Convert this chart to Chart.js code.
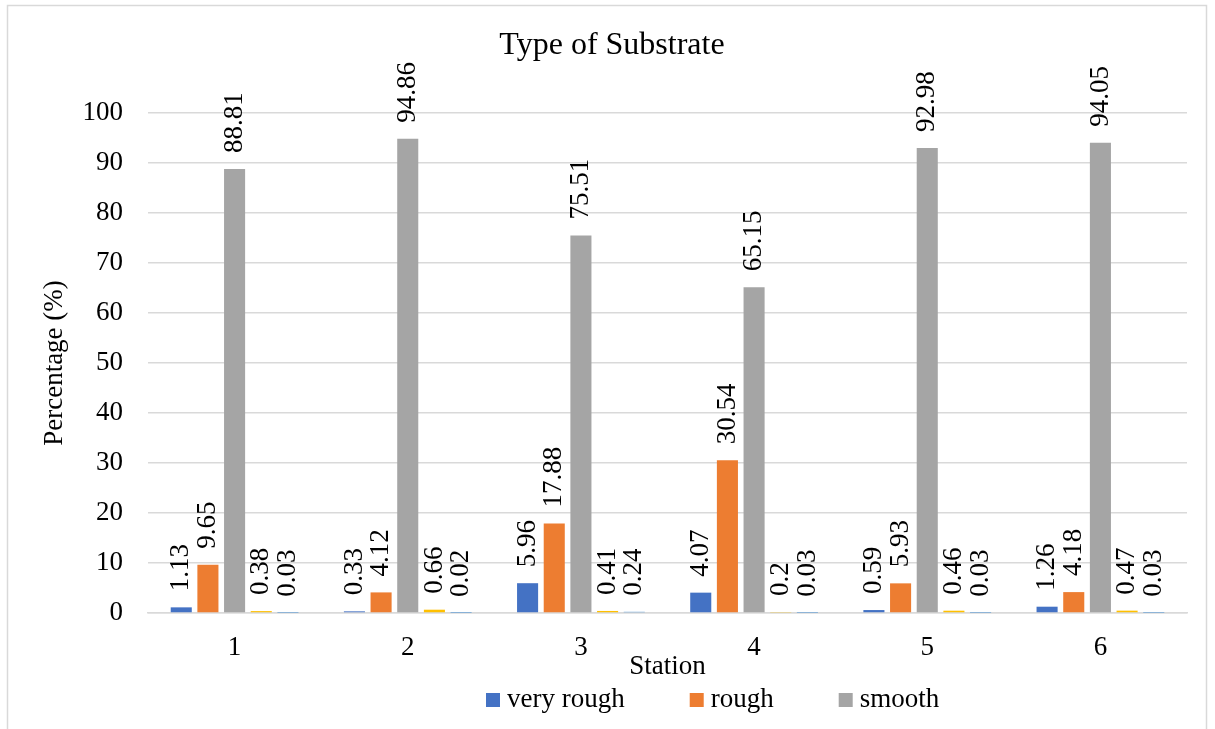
<!DOCTYPE html>
<html>
<head>
<meta charset="utf-8">
<script src="https://cdn.jsdelivr.net/npm/chart.js@4/dist/chart.umd.min.js"></script>
<style>
  html, body { margin: 0; padding: 0; background: #ffffff; }
  #wrap { position: relative; width: 1215px; height: 729px; }
</style>
</head>
<body>
<div id="wrap"><canvas id="chart" width="1215" height="729"></canvas></div>
<script>
// Stations along the x axis
const stations = ['1', '2', '3', '4', '5', '6'];

// Substrate share per station (%)
const veryRough = [1.13, 0.33, 5.96, 4.07, 0.59, 1.26];
const rough     = [9.65, 4.12, 17.88, 30.54, 5.93, 4.18];
const smooth    = [88.81, 94.86, 75.51, 65.15, 92.98, 94.05];
const series4   = [0.38, 0.66, 0.41, 0.2, 0.46, 0.47];
const series5   = [0.03, 0.02, 0.24, 0.03, 0.03, 0.03];

// Y axis range and step
const yMin = 0, yMax = 100, yStep = 10;

const SERIF = "'Liberation Serif', 'Times New Roman', serif";
Chart.defaults.font.family = SERIF;
Chart.defaults.color = '#000000';

// White page with a thin grey frame
const framePlugin = {
  id: 'frame',
  beforeDraw(chart) {
    const ctx = chart.ctx;
    ctx.save();
    ctx.fillStyle = '#ffffff';
    ctx.fillRect(0, 0, chart.width, chart.height);
    ctx.strokeStyle = '#d9d9d9';
    ctx.lineWidth = 1.5;
    ctx.strokeRect(7.5, 5.5, 1199, 800);
    ctx.restore();
  }
};

// Vertical value labels above each bar
const valueLabels = {
  id: 'valueLabels',
  afterDatasetsDraw(chart) {
    const ctx = chart.ctx;
    ctx.save();
    ctx.font = '27px ' + SERIF;
    ctx.fillStyle = '#000000';
    ctx.textAlign = 'left';
    ctx.textBaseline = 'middle';
    chart.data.datasets.forEach((ds, di) => {
      const meta = chart.getDatasetMeta(di);
      meta.data.forEach((bar, i) => {
        const v = ds.data[i];
        ctx.save();
        ctx.translate(bar.x, bar.y - 16);
        ctx.rotate(-Math.PI / 2);
        ctx.fillText(String(v), 0, 0);
        ctx.restore();
      });
    });
    ctx.restore();
  }
};

// Legend row for the three main substrate types
const legendRow = {
  id: 'legendRow',
  afterDraw(chart) {
    const ctx = chart.ctx;
    ctx.save();
    ctx.font = '27px ' + SERIF;
    ctx.textBaseline = 'middle';
    ctx.textAlign = 'left';
    let x = 486;
    const cy = 700;
    chart.data.datasets.filter(d => d.inLegend).forEach(ds => {
      ctx.fillStyle = ds.backgroundColor;
      ctx.fillRect(x, cy - 7, 14, 14);
      ctx.fillStyle = '#000000';
      ctx.fillText(ds.label, x + 21, cy);
      x += 21 + ctx.measureText(ds.label).width + 65;
    });
    ctx.restore();
  }
};

new Chart(document.getElementById('chart'), {
  type: 'bar',
  data: {
    labels: stations,
    datasets: [
      { label: 'very rough', data: veryRough, backgroundColor: '#4472c4', inLegend: true },
      { label: 'rough',      data: rough,     backgroundColor: '#ed7d31', inLegend: true },
      { label: 'smooth',     data: smooth,    backgroundColor: '#a5a5a5', inLegend: true },
      { label: 'series 4',   data: series4,   backgroundColor: '#ffc000', inLegend: false },
      { label: 'series 5',   data: series5,   backgroundColor: '#5b9bd5', inLegend: false }
    ]
  },
  options: {
    responsive: false,
    animation: false,
    layout: { padding: { top: 0, left: 9, right: 0, bottom: 46 } },
    datasets: {
      bar: { categoryPercentage: 0.77, barPercentage: 0.79 }
    },
    plugins: {
      legend: { display: false },
      tooltip: { enabled: false },
      title: {
        display: true,
        text: 'Type of Substrate',
        font: { size: 32, weight: 'normal', family: SERIF },
        color: '#000000',
        padding: { top: 26, bottom: 48.6 }
      }
    },
    scales: {
      x: {
        grid: { display: false, drawTicks: false },
        border: { display: true, color: '#d9d9d9', width: 1.5 },
        ticks: { font: { size: 27 }, padding: 19, color: '#000000' },
        title: {
          display: true,
          text: 'Station',
          font: { size: 27 },
          color: '#000000',
          padding: { top: 0, bottom: 0 }
        },
        afterFit(scale) { scale.height = 70; }
      },
      y: {
        min: yMin,
        max: yMax,
        grid: { color: '#d9d9d9', lineWidth: 1.5, drawTicks: false },
        border: { display: false },
        ticks: { stepSize: yStep, font: { size: 27 }, padding: 25, color: '#000000' },
        title: {
          display: true,
          text: 'Percentage (%)',
          font: { size: 27 },
          color: '#000000',
          padding: { top: 30, bottom: 0 }
        },
        afterFit(scale) { scale.width = 139; }
      },
      // empty margin on the right of the plot
      yRight: {
        type: 'linear',
        position: 'right',
        display: true,
        grid: { display: false, drawTicks: false },
        border: { display: false },
        ticks: { display: false },
        afterFit(scale) { scale.width = 28; }
      }
    }
  },
  plugins: [framePlugin, valueLabels, legendRow]
});
</script>
</body>
</html>
